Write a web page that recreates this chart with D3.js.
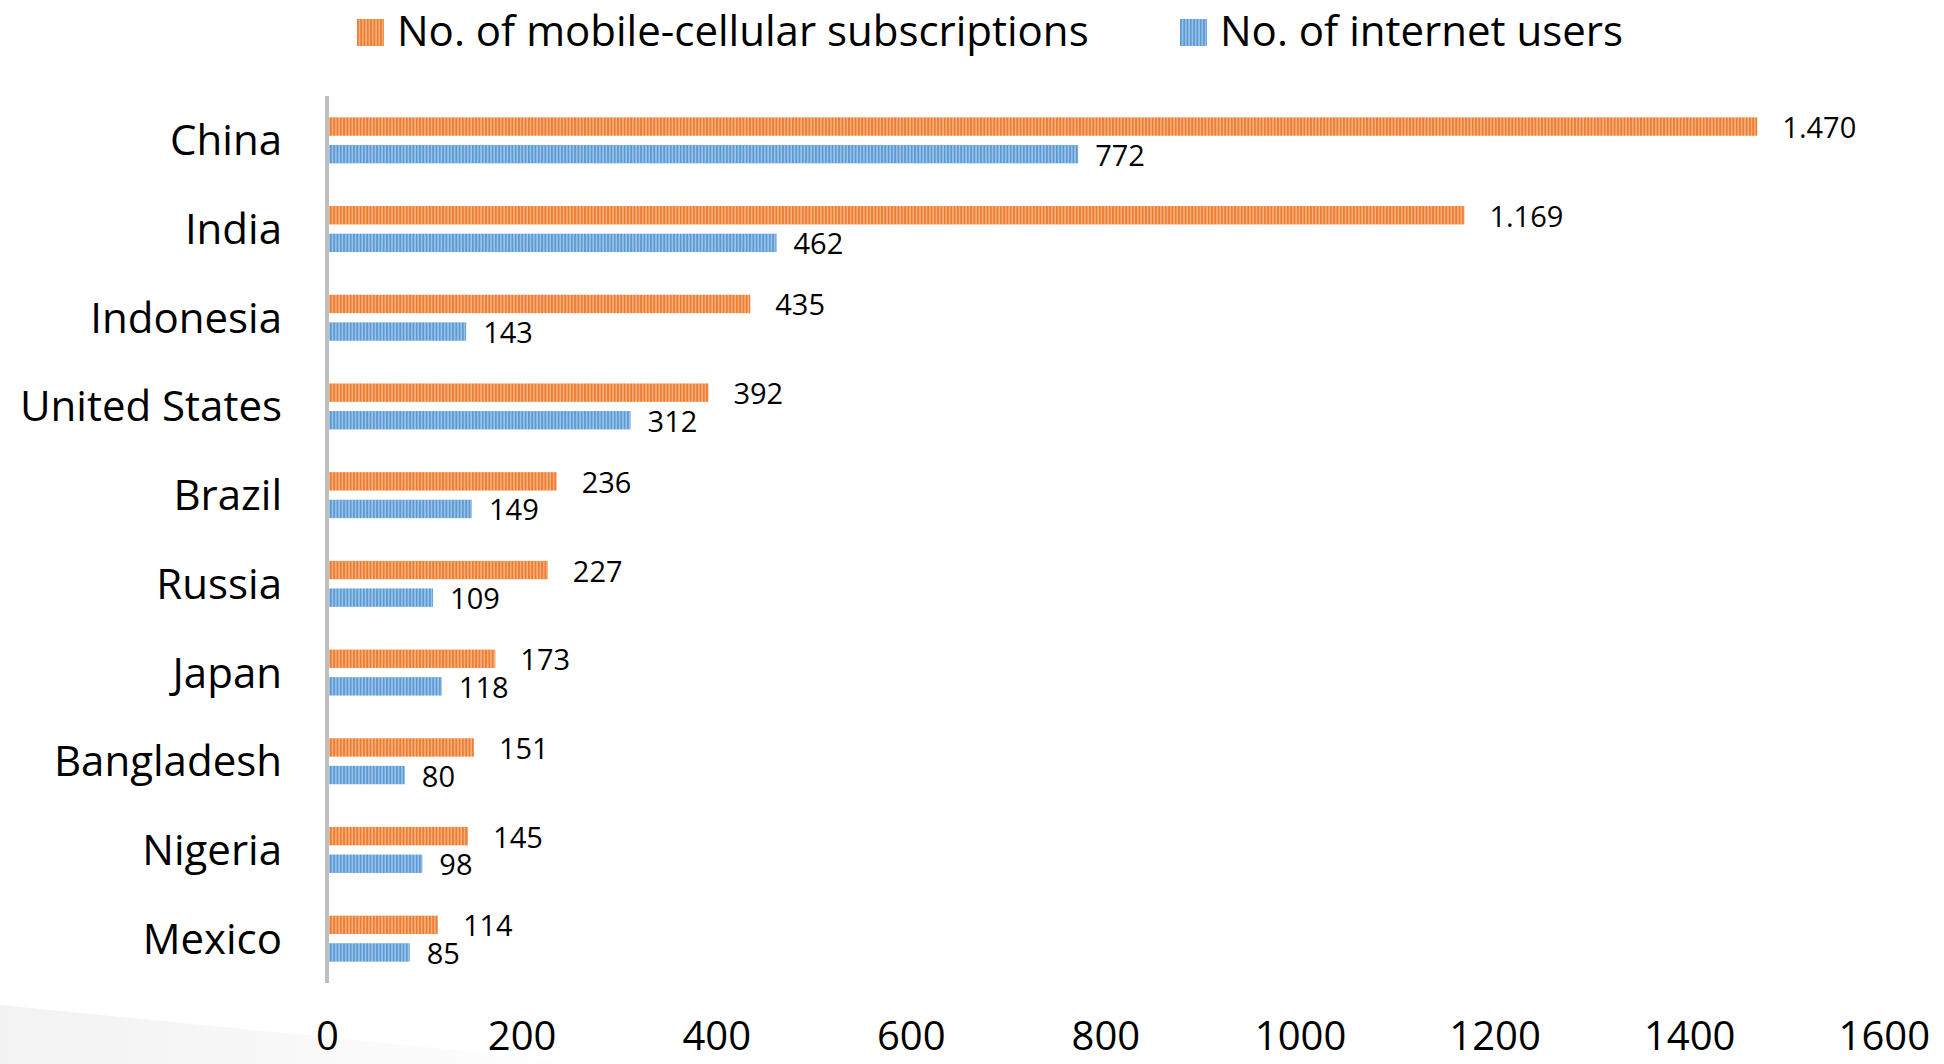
<!DOCTYPE html>
<html><head><meta charset="utf-8">
<script src="https://cdn.jsdelivr.net/npm/d3@7"></script>
<style>html,body{margin:0;padding:0;background:#fff;}svg{display:block;}</style>
</head><body>
<svg id="chart" width="1944" height="1064"></svg>
<script>
const categories = ["China","India","Indonesia","United States","Brazil","Russia","Japan","Bangladesh","Nigeria","Mexico"];
const mobileSubs = [1470,1169,435,392,236,227,173,151,145,114];
const internetUsers = [772,462,143,312,149,109,118,80,98,85];
const seriesNames = ["No. of mobile-cellular subscriptions","No. of internet users"];
const xTicks = [0,200,400,600,800,1000,1200,1400,1600];

const FONT = "'Open Sans', 'Noto Sans', sans-serif";
const svg = d3.select("#chart");
const defs = svg.append("defs");

function stripe(id, base, light){
  const p = defs.append("pattern").attr("id", id).attr("patternUnits","userSpaceOnUse")
    .attr("width", 3.3).attr("height", 10);
  p.append("rect").attr("width",3.3).attr("height",10).attr("fill", base);
  p.append("rect").attr("x",1.9).attr("width",1.3).attr("height",10).attr("fill", light);
}
stripe("pOrange", "#ED7D31", "#F7B98C");
stripe("pBlue", "#5B9BD5", "#A9CAEB");
const fills = ["url(#pOrange)","url(#pBlue)"];

// faint background shape bottom-left
const g0 = defs.append("linearGradient").attr("id","fade").attr("x1","0").attr("x2","1").attr("y1","0").attr("y2","0");
g0.append("stop").attr("offset","0").attr("stop-color","#f2f2f2");
g0.append("stop").attr("offset","1").attr("stop-color","#ffffff");
svg.append("path").attr("d","M0,1005 L600,1064 L0,1064 Z").attr("fill","url(#fade)");

const x = d3.scaleLinear().domain([0,1600]).range([327, 327 + 1600*0.973]);
const y0 = d3.scaleBand().domain(categories).range([96, 983]);
const bw = y0.bandwidth();
const y1 = d3.scaleBand().domain(seriesNames).range([bw/2-23, bw/2+23]).paddingInner(0.333);
const labelOffset = [25, 17];

const fmt = d3.formatLocale({decimal: ",", thousands: ".", grouping: [3], currency: ["",""]}).format(",d");

const data = categories.map((c,i)=>({cat:c, vals:[mobileSubs[i], internetUsers[i]]}));

const groups = svg.append("g").selectAll("g").data(data).join("g")
  .attr("transform", d => `translate(0,${y0(d.cat)})`);

groups.selectAll("rect").data(d => d.vals.map((v,j)=>({v, j}))).join("rect")
  .attr("x", x(0)+1.7)
  .attr("y", d => y1(seriesNames[d.j]))
  .attr("width", d => x(d.v) - x(0) - 1.7)
  .attr("height", y1.bandwidth())
  .attr("fill", d => fills[d.j]);

groups.selectAll("text.lbl").data(d => d.vals.map((v,j)=>({v, j}))).join("text")
  .attr("class","lbl")
  .attr("x", d => x(d.v) + labelOffset[d.j])
  .attr("y", d => y1(seriesNames[d.j]) + y1.bandwidth()/2 + 11.5)
  .attr("font-family", FONT).attr("font-size", 29).attr("fill","#000")
  .text(d => fmt(d.v));

// category labels
svg.append("g").selectAll("text").data(categories).join("text")
  .attr("x", 282)
  .attr("y", d => y0(d) + bw/2 + 15)
  .attr("text-anchor","end")
  .attr("font-family", FONT).attr("font-size", 42).attr("fill","#000")
  .text(d => d);

// axis line
svg.append("line").attr("x1", x(0)).attr("x2", x(0)).attr("y1", 96).attr("y2", 983)
  .attr("stroke","#bfbfbf").attr("stroke-width",4);

// x axis (tick labels only)
const xAxis = d3.axisBottom(x).tickValues(xTicks).tickSize(0).tickPadding(0).tickFormat(d3.format("d"));
const ax = svg.append("g").attr("transform","translate(0,1021)").call(xAxis);
ax.select(".domain").remove();
ax.selectAll("text").attr("font-family", FONT).attr("font-size", 40).attr("fill","#000")
  .attr("dy", null).attr("y", 29);

// legend
const legX = [357, 1180];
const lg = svg.append("g").selectAll("g").data(seriesNames).join("g")
  .attr("transform", (d,i) => `translate(${legX[i]},19)`);
lg.append("rect").attr("width",27).attr("height",27).attr("fill", (d,i)=>fills[i]);
lg.append("text").attr("x", 40).attr("y", 27)
  .attr("font-family", FONT).attr("font-size", 42).attr("fill","#000")
  .text(d => d);
</script>
</body></html>
